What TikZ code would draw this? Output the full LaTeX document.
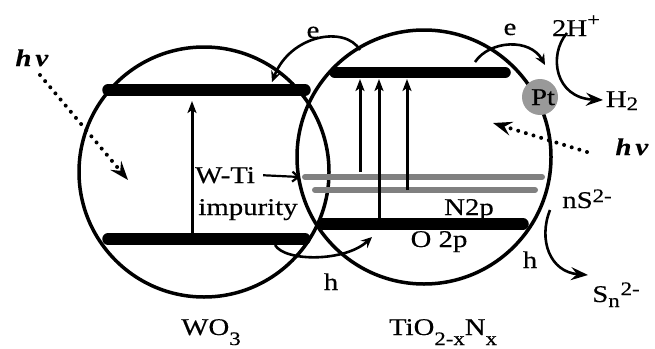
\documentclass[tikz,border=0pt]{standalone}
\usepackage{fontspec}
\setmainfont[FakeStretch=1.2, FakeBold=0.4]{Liberation Serif}
\usetikzlibrary{arrows.meta}
\newcommand{\lowr}[2][10pt]{\raisebox{-#1}{\fontsize{19}{19}\selectfont #2}}
\newcommand{\uppr}[2][7pt]{\raisebox{#1}{\fontsize{19}{19}\selectfont #2}}

\begin{document}
\begin{tikzpicture}[x=1pt, y=-1pt,
  ring/.style={line width=3.5pt},
  band/.style={line width=11.5pt, line cap=round},
  gband/.style={line width=6pt, line cap=round, black!50},
  up/.style={line width=3pt, -{Stealth[length=12pt, width=9pt, inset=3pt]}},
  hop/.style={line width=2.6pt, -{Stealth[length=11pt, width=10pt, inset=4pt]}},
  redox/.style={line width=2.6pt, -{Stealth[length=17pt, width=13pt, inset=6pt]}},
  photon/.style={line width=4pt, line cap=round, dash pattern=on 0pt off 8pt, -{Stealth[length=19pt, width=14pt, inset=7pt]}},
  lbl/.style={font=\fontsize{24}{24}\selectfont, inner sep=0pt, anchor=base}]
\useasboundingbox (0,0) rectangle (655,348);
\draw[ring] (204,172) circle[radius=125];
\draw[ring] (424,157) circle[radius=127];
\fill[black!40] (540,97) circle[radius=18];
\draw[band] (108,90) -- (305,90);
\draw[band] (108,239) -- (305,239);
\draw[band] (335,72.5) -- (505,72.5);
\draw[band] (323,224) -- (523,224);
\draw[gband] (305,177) -- (542,177);
\draw[gband] (315,190) -- (535,190);
\draw[up] (192,239) -- (192,101);
\draw[up] (360,172) -- (360,79);
\draw[up] (379,219) -- (379,79);
\draw[up] (407,190) -- (407,79);
\node[lbl] (hvl) at (32,66) {\textbf{\itshape h\,ν}};
\node[lbl] (hvr) at (632,155) {\textbf{\itshape h\,ν}};
\node[lbl] (wti) at (225,183) {W-Ti};
\node[lbl] (imp) at (248,215) {impurity};
\node[lbl] (eleft) at (313,38) {e};
\node[lbl] (eright) at (510,35) {e};
\node[lbl] (hplus) at (576,36) {2H\uppr[10pt]{+}};
\node[lbl] (htwo) at (622,107) {H\lowr[3pt]{2}};
\node[lbl] (pt) at (543,105) {Pt};
\node[lbl] (ntwop) at (469,215) {N2p};
\node[lbl] (otwop) at (439,247) {O 2p};
\node[lbl] (nsulf) at (587,208) {nS\uppr[6pt]{2-}};
\node[lbl] (hright) at (530,268) {h};
\node[lbl] (poly) at (616,302) {S\lowr[5pt]{n}\hspace{1pt}\uppr{2-}};
\node[lbl] (hleft) at (331,290) {h};
\node[lbl] (wo) at (211,335) {WO\lowr{3}};
\node[lbl] (tio) at (443,335) {TiO\lowr{2-x}N\lowr{x}};
\coordinate (wtiend) at (300,177);
\draw[line width=2.2pt, -{Straight Barb[length=6pt, width=10pt]}] ([xshift=8pt]wti.east) -- (wtiend);
\draw[photon] (40,75) -- (128,180);
\draw[photon] (587,152) -- (493,123);
\draw[hop] (360,50) .. controls (345,25) and (290,35) .. (272,82);
\draw[hop] (475,62) .. controls (490,40) and (530,38) .. (545,65);
\draw[hop] (275,245) .. controls (285,262) and (345,262) .. (372,237);
\draw[redox] (567,33) .. controls (548,55) and (555,98) .. (603,100);
\draw[redox] (550,210) .. controls (538,240) and (550,272) .. (588,275);
\end{tikzpicture}
\end{document}
